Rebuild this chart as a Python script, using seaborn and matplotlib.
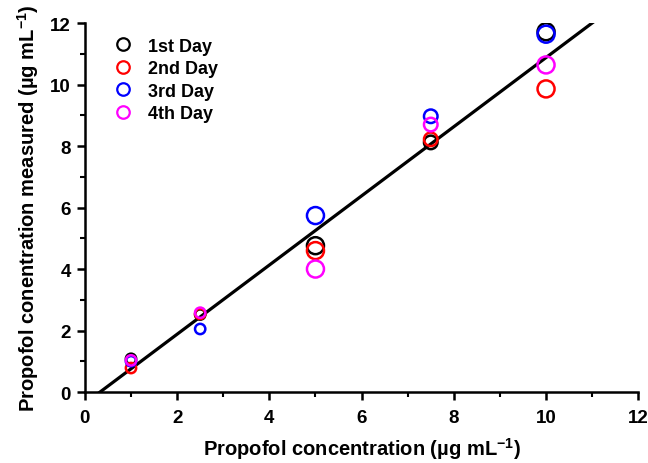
import numpy as np
import pandas as pd
import matplotlib
matplotlib.use("Agg")
import matplotlib.pyplot as plt
import seaborn as sns

# Data
concentration = [1.0, 2.5, 5.0, 7.5, 10.0]
day1 = [1.08, 2.52, 4.76, 8.12, 11.72]
day2 = [0.78, 2.54, 4.60, 8.22, 9.86]
day3 = [1.00, 2.05, 5.74, 8.97, 11.64]
day4 = [1.03, 2.58, 4.00, 8.70, 10.64]
day_labels = ["1st Day", "2nd Day", "3rd Day", "4th Day"]
day_colors = ["#000000", "#FF0000", "#0000FF", "#FF00FF"]
marker_area = [55, 55, 150, 95, 150]  # per concentration level
fit_slope = 1.125
fit_intercept = -0.37

sns.set_theme(style="ticks")
plt.rcParams['font.family'] = ['Liberation Sans', 'DejaVu Sans']
plt.rcParams['font.weight'] = 'bold'
plt.rcParams['text.color'] = 'black'
plt.rcParams['axes.labelcolor'] = 'black'
plt.rcParams['xtick.color'] = 'black'
plt.rcParams['ytick.color'] = 'black'
plt.rcParams['mathtext.fontset'] = 'custom'
plt.rcParams['mathtext.rm'] = 'Liberation Sans:bold'
plt.rcParams['mathtext.bf'] = 'Liberation Sans:bold'
plt.rcParams['mathtext.it'] = 'Liberation Sans:bold'
plt.rcParams['mathtext.default'] = 'bf'

rows = []
for lab, vals in zip(day_labels, [day1, day2, day3, day4]):
    for c, v, s in zip(concentration, vals, marker_area):
        rows.append({"conc": c, "meas": v, "day": lab, "size": s})
df = pd.DataFrame(rows)

fig = plt.figure(figsize=(6.48, 4.64), dpi=100)
ax = fig.add_axes([0.131, 0.153, 0.854, 0.795])

xl = np.linspace(0, 12, 50)
line_df = pd.DataFrame({"x": xl, "y": fit_slope * xl + fit_intercept})
sns.lineplot(data=line_df, x="x", y="y", color="black", lw=2.3, ax=ax, zorder=1)

for lab, col in zip(day_labels, day_colors):
    sub = df[df["day"] == lab]
    ax.scatter(sub["conc"], sub["meas"], s=sub["size"], facecolors="none",
               edgecolors=col, linewidths=1.8, zorder=3, label=lab)

ax.set_xlim(0, 12)
ax.set_ylim(0, 12)
ax.set_xticks(range(0, 13, 2))
ax.set_yticks(range(0, 13, 2))
ax.set_xticks(range(1, 12, 2), minor=True)
ax.set_yticks(range(1, 12, 2), minor=True)
sns.despine(ax=ax)
for sp in ["left", "bottom"]:
    ax.spines[sp].set_linewidth(1.8)
    ax.spines[sp].set_color("black")
ax.tick_params(which="major", direction="out", length=6, width=1.8, labelsize=13.5, colors="black")
ax.tick_params(axis="x", which="major", pad=6)
ax.tick_params(axis="y", which="major", pad=4)
ax.tick_params(which="minor", direction="out", length=3.5, width=1.5, colors="black")
for t in ax.get_xticklabels() + ax.get_yticklabels():
    t.set_fontweight("bold")

ax.set_xlabel(r"Propofol concentration (µg mL$^{-1}$)", fontsize=14.5, fontweight="bold", labelpad=7)
ax.set_ylabel(r"Propofol conentration measured (µg mL$^{-1}$)", fontsize=14.5, fontweight="bold", labelpad=7)

h = [plt.Line2D([], [], marker="o", ls="none", markerfacecolor="none",
                markeredgecolor=c, markeredgewidth=1.6, markersize=9) for c in day_colors]
leg = ax.legend(h, day_labels, loc="upper left", bbox_to_anchor=(0.02, 1.005), frameon=False,
                prop={"weight": "bold", "size": 13}, handletextpad=0.8, labelspacing=0.31,
                handlelength=1.2)

fig.savefig("out.png", dpi=100)
